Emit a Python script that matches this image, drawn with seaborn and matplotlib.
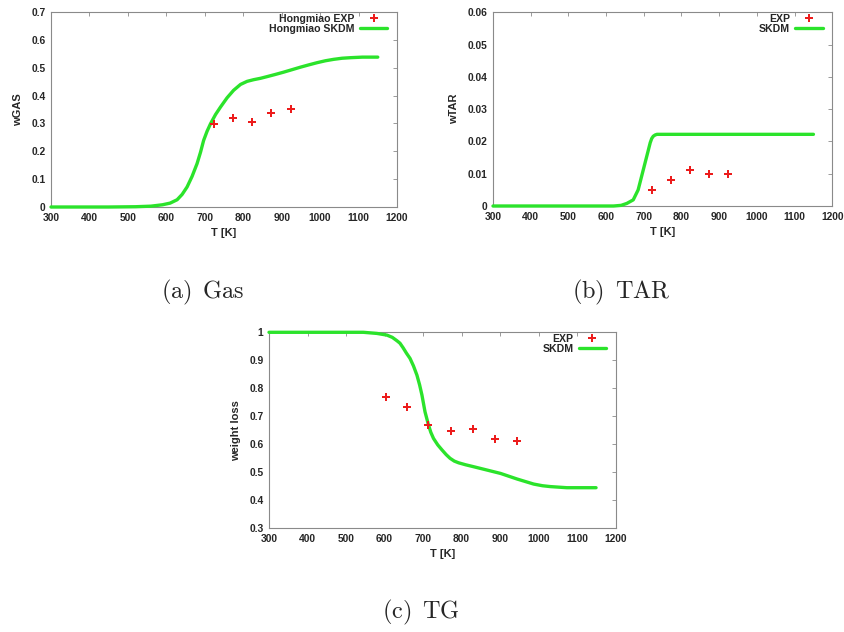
import numpy as np
import pandas as pd
import matplotlib
matplotlib.use("Agg")
import matplotlib.pyplot as plt
import seaborn as sns
from matplotlib.lines import Line2D
from matplotlib.ticker import FuncFormatter, MultipleLocator

# ---------------- data ----------------
# (a) Gas
gas_model_T = [300, 450, 520, 560, 590, 610, 628, 641, 654, 667, 680, 689, 697, 706, 715,
               728, 741, 758, 775, 793, 810, 827, 845, 862, 884, 905, 927, 949, 970, 992,
               1014, 1035, 1057, 1079, 1110, 1150]
gas_model_w = [0.0, 0.0, 0.001, 0.003, 0.008, 0.014, 0.026, 0.045, 0.072, 0.110, 0.156, 0.197,
               0.239, 0.272, 0.299, 0.332, 0.359, 0.392, 0.419, 0.440, 0.451, 0.457, 0.462,
               0.468, 0.476, 0.484, 0.493, 0.502, 0.510, 0.518, 0.525, 0.530, 0.534, 0.536,
               0.538, 0.538]
exp_T = [723, 773, 823, 873, 923]
gas_exp_w = [0.299, 0.321, 0.304, 0.339, 0.353]

# (b) TAR
tar_model_T = [300, 620, 640, 655, 672, 685, 694, 703, 712, 717, 721, 725, 730, 735, 1150]
tar_model_w = [0.0, 0.0, 0.0002, 0.0008, 0.0019, 0.005, 0.0091, 0.0132, 0.0173, 0.0196,
               0.0209, 0.0216, 0.0220, 0.0222, 0.0222]
tar_exp_w = [0.005, 0.008, 0.011, 0.010, 0.010]

# (c) TG
tg_model_T = [300, 545, 580, 606, 620, 632, 640, 648, 657, 666, 675, 684, 691, 697, 705, 714,
              720, 727, 738, 749, 760, 770, 781, 792, 810, 831, 866, 901, 944, 987, 1010,
              1030, 1073, 1149]
tg_model_w = [1.0, 1.0, 0.996, 0.99, 0.982, 0.97, 0.961, 0.945, 0.925, 0.907, 0.880, 0.847,
              0.812, 0.776, 0.716, 0.669, 0.643, 0.621, 0.598, 0.58, 0.563, 0.55, 0.540, 0.534,
              0.527, 0.52, 0.508, 0.496, 0.476, 0.458, 0.452, 0.449, 0.445, 0.445]
tg_exp_T = [603, 658, 713, 773, 830, 886, 945]
tg_exp_w = [0.768, 0.732, 0.668, 0.646, 0.656, 0.620, 0.612]

# ---------------- style ----------------
sns.set_theme(style="white")
plt.rcParams['font.family'] = ['Liberation Sans', 'DejaVu Sans']
plt.rcParams['mathtext.fontset'] = 'cm'

GREEN = "#2be32b"
RED = "#ec1c1c"
FRAME = "#8a8a8a"

fig = plt.figure(figsize=(8.45, 6.32), dpi=100)
ax_a = fig.add_axes([51 / 845, 1 - 207 / 632, 346 / 845, 195 / 632])
ax_b = fig.add_axes([493 / 845, 1 - 206 / 632, 339.3 / 845, 193.7 / 632])
ax_c = fig.add_axes([269 / 845, 1 - 528.3 / 632, 346.7 / 845, 196 / 632])


def fmt(v, pos):
    return f"{round(v, 4):g}"


def panel(ax, mT, mw, eT, ew, ylabel, ylim, ystep, lab_exp, lab_mod):
    dm = pd.DataFrame({"T": mT, "w": mw})
    de = pd.DataFrame({"T": eT, "w": ew})
    sns.lineplot(data=dm, x="T", y="w", ax=ax, color=GREEN, lw=2.4, sort=False,
                 clip_on=False, zorder=3)
    sns.scatterplot(data=de, x="T", y="w", ax=ax, color=RED, marker="P", s=30,
                    linewidth=0, zorder=4)
    ax.set_xlim(300, 1200)
    ax.set_ylim(*ylim)
    ax.xaxis.set_major_locator(MultipleLocator(100))
    ax.yaxis.set_major_locator(MultipleLocator(ystep))
    ax.yaxis.set_major_formatter(FuncFormatter(fmt))
    ax.tick_params(direction="in", length=3, width=0.6, color=FRAME, top=True, right=True,
                   labelsize=7.4, pad=4)
    for lab in ax.get_xticklabels() + ax.get_yticklabels():
        lab.set_fontweight("bold")
    for sp in ax.spines.values():
        sp.set_color(FRAME)
        sp.set_linewidth(0.8)
    ax.set_xlabel("T [K]", fontsize=8, fontweight="bold", labelpad=4)
    ax.set_ylabel(ylabel, fontsize=8, fontweight="bold", labelpad=6)
    handles = [Line2D([], [], color=RED, marker="P", ms=5.2, mew=0, ls="none"),
               Line2D([], [], color=GREEN, lw=2.4)]
    ax.legend(handles, [lab_exp, lab_mod], loc="upper right",
              bbox_to_anchor=(1 - 8 / 346, 1.0), borderaxespad=0, borderpad=0.15,
              frameon=False, markerfirst=False, handlelength=2.6, handletextpad=0.5,
              labelspacing=0.0, prop={"size": 7.6, "weight": "bold"})


panel(ax_a, gas_model_T, gas_model_w, exp_T, gas_exp_w, "wGAS", (0, 0.7), 0.1,
      "Hongmiao EXP", "Hongmiao SKDM")
panel(ax_b, tar_model_T, tar_model_w, exp_T, tar_exp_w, "wTAR", (0, 0.06), 0.01,
      "EXP", "SKDM")
panel(ax_c, tg_model_T, tg_model_w, tg_exp_T, tg_exp_w, "weight loss", (0.3, 1.0), 0.1,
      "EXP", "SKDM")

# captions
fig.text(203 / 845, 1 - 292 / 632, r"$\mathrm{(a)\enspace Gas}$", ha="center", va="center",
         fontsize=17.5)
fig.text(621 / 845, 1 - 292 / 632, r"$\mathrm{(b)\enspace TAR}$", ha="center", va="center",
         fontsize=17.5)
fig.text(421 / 845, 1 - 612 / 632, r"$\mathrm{(c)\enspace TG}$", ha="center", va="center",
         fontsize=17.5)

fig.savefig("out.png", dpi=100, facecolor="white")
